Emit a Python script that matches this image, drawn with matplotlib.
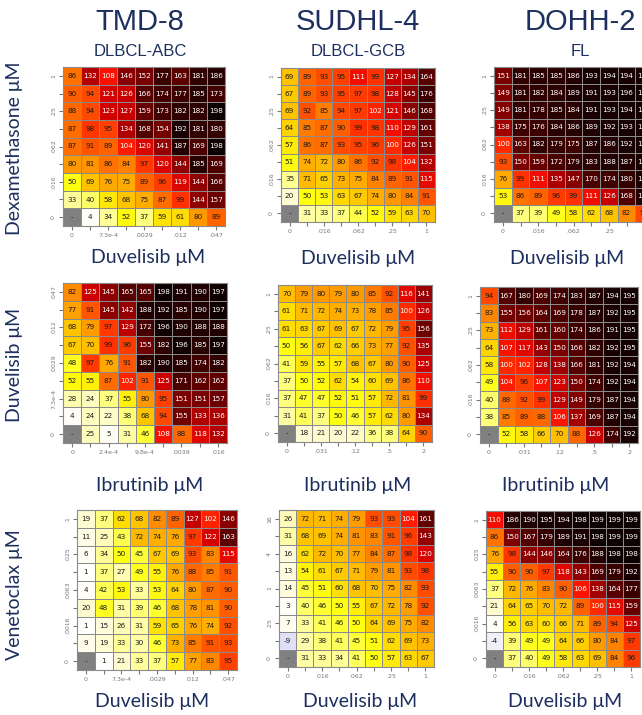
import numpy as np
import matplotlib.pyplot as plt
from matplotlib.colors import LinearSegmentedColormap

# ---- data (rows listed top to bottom, None = untreated corner) ----
cell_lines = ["TMD-8", "SUDHL-4", "DOHH-2"]
subtypes = ["DLBCL-ABC", "DLBCL-GCB", "FL"]
row_drugs = ["Dexamethasone μM", "Duvelisib μM", "Venetoclax μM"]
col_drugs = ["Duvelisib μM", "Ibrutinib μM", "Duvelisib μM"]  # x label per row

tmd8_dex_duv = [
    [86, 132, 108, 146, 152, 177, 163, 181, 186],
    [90, 94, 121, 126, 166, 174, 177, 185, 173],
    [88, 94, 123, 127, 159, 173, 182, 182, 198],
    [87, 98, 95, 134, 168, 154, 192, 181, 180],
    [87, 91, 89, 104, 120, 141, 187, 169, 198],
    [80, 81, 86, 84, 97, 120, 144, 185, 169],
    [50, 69, 76, 75, 89, 96, 119, 144, 166],
    [33, 40, 58, 68, 75, 87, 99, 144, 157],
    [None, 4, 34, 52, 37, 59, 61, 80, 89],
]
sudhl4_dex_duv = [
    [69, 89, 93, 95, 111, 99, 127, 134, 164],
    [67, 89, 93, 95, 97, 98, 128, 145, 176],
    [69, 92, 85, 94, 97, 102, 121, 146, 168],
    [64, 85, 87, 90, 99, 98, 110, 129, 161],
    [57, 86, 87, 93, 95, 96, 100, 126, 151],
    [51, 74, 72, 80, 86, 92, 98, 104, 132],
    [35, 71, 65, 73, 75, 84, 89, 91, 115],
    [20, 50, 53, 63, 67, 74, 80, 84, 91],
    [None, 31, 33, 37, 44, 52, 59, 63, 70],
]
dohh2_dex_duv = [
    [151, 181, 185, 185, 186, 193, 194, 194, 195],
    [149, 181, 182, 184, 189, 191, 193, 196, 196],
    [149, 181, 178, 185, 184, 191, 193, 194, 196],
    [138, 175, 176, 184, 186, 189, 192, 193, 195],
    [100, 163, 182, 179, 175, 187, 186, 192, 195],
    [93, 150, 159, 172, 179, 183, 188, 187, 194],
    [76, 99, 111, 135, 147, 170, 174, 180, 192],
    [53, 86, 89, 96, 99, 111, 126, 168, 188],
    [None, 37, 39, 49, 58, 62, 68, 82, 94],
]
tmd8_duv_ibr = [
    [82, 125, 145, 165, 165, 198, 191, 190, 197],
    [77, 91, 145, 142, 188, 192, 185, 190, 197],
    [68, 79, 97, 129, 172, 196, 190, 188, 188],
    [67, 70, 99, 96, 155, 182, 196, 185, 197],
    [48, 97, 76, 91, 182, 190, 185, 174, 182],
    [52, 55, 87, 102, 91, 125, 171, 162, 162],
    [28, 24, 37, 55, 80, 95, 151, 151, 157],
    [4, 24, 22, 38, 68, 94, 155, 133, 136],
    [None, 25, 5, 31, 46, 108, 88, 118, 132],
]
sudhl4_duv_ibr = [
    [70, 79, 80, 79, 80, 85, 92, 116, 141],
    [61, 71, 72, 74, 73, 78, 85, 100, 126],
    [61, 63, 67, 69, 67, 72, 79, 95, 156],
    [50, 56, 67, 62, 66, 73, 77, 92, 135],
    [41, 59, 55, 57, 68, 67, 80, 90, 125],
    [37, 50, 52, 62, 54, 60, 69, 86, 110],
    [37, 47, 47, 52, 51, 57, 72, 81, 99],
    [31, 41, 37, 50, 46, 57, 62, 80, 134],
    [None, 18, 21, 20, 22, 36, 38, 64, 90],
]
dohh2_duv_ibr = [
    [94, 167, 180, 169, 174, 183, 187, 194, 195],
    [83, 155, 156, 164, 169, 178, 187, 192, 195],
    [73, 112, 129, 161, 160, 174, 186, 191, 195],
    [64, 107, 117, 143, 150, 166, 182, 192, 195],
    [58, 100, 102, 128, 138, 166, 181, 192, 194],
    [49, 104, 96, 107, 123, 150, 174, 192, 194],
    [40, 88, 92, 99, 129, 149, 179, 187, 194],
    [38, 85, 89, 88, 106, 137, 169, 187, 194],
    [None, 52, 58, 66, 70, 88, 126, 174, 192],
]
tmd8_ven_duv = [
    [19, 37, 62, 68, 82, 89, 127, 102, 146],
    [11, 25, 43, 72, 74, 76, 97, 122, 163],
    [6, 34, 50, 45, 67, 69, 93, 83, 115],
    [1, 37, 27, 49, 55, 76, 88, 85, 91],
    [4, 42, 53, 33, 53, 64, 80, 87, 90],
    [20, 48, 31, 39, 46, 68, 78, 81, 90],
    [1, 15, 26, 31, 59, 65, 76, 74, 92],
    [9, 19, 33, 30, 46, 73, 85, 91, 93],
    [None, 1, 21, 33, 37, 57, 77, 83, 95],
]
sudhl4_ven_duv = [
    [26, 72, 71, 74, 79, 93, 93, 104, 161],
    [31, 68, 69, 74, 81, 83, 91, 96, 143],
    [16, 62, 72, 70, 77, 84, 87, 98, 120],
    [13, 54, 61, 67, 71, 79, 81, 93, 98],
    [14, 45, 51, 60, 68, 70, 75, 82, 93],
    [3, 40, 46, 50, 55, 67, 72, 78, 92],
    [7, 33, 41, 46, 50, 64, 69, 75, 82],
    [-9, 29, 38, 41, 45, 51, 62, 69, 73],
    [None, 31, 33, 34, 41, 50, 57, 63, 67],
]
dohh2_ven_duv = [
    [110, 186, 190, 195, 194, 198, 199, 199, 199],
    [86, 150, 167, 179, 189, 191, 198, 199, 199],
    [76, 98, 144, 146, 164, 176, 188, 198, 198],
    [55, 90, 90, 97, 118, 143, 169, 179, 192],
    [37, 72, 76, 83, 90, 106, 138, 164, 177],
    [21, 64, 65, 70, 72, 89, 100, 115, 159],
    [4, 56, 63, 60, 66, 71, 89, 94, 125],
    [-4, 39, 49, 49, 64, 66, 80, 84, 97],
    [None, 37, 40, 49, 58, 63, 69, 84, 96],
]

# tick labels, left-to-right (x) and bottom-to-top (y); '' = unlabeled tick
duv_tmd8_ticks = ["0", "", "7.3e-4", "", ".0029", "", ".012", "", ".047"]
duv_ticks = ["0", "", ".016", "", ".062", "", ".25", "", "1"]
ibr_tmd8_ticks = ["0", "", "2.4e-4", "", "9.8e-4", "", ".0039", "", ".016"]
ibr_ticks = ["0", "", ".031", "", ".12", "", ".5", "", "2"]
dex_ticks = ["0", "", ".016", "", ".062", "", ".25", "", "1"]
ven_ticks = ["0", "", ".0016", "", ".0063", "", ".025", "", ".1"]
ven_sudhl4_ticks = ["0", "", ".25", "", "1", "", "4", "", "16"]

panels = [
    [(tmd8_dex_duv, duv_tmd8_ticks, dex_ticks),
     (sudhl4_dex_duv, duv_ticks, dex_ticks),
     (dohh2_dex_duv, duv_ticks, dex_ticks)],
    [(tmd8_duv_ibr, ibr_tmd8_ticks, duv_tmd8_ticks),
     (sudhl4_duv_ibr, ibr_ticks, duv_ticks),
     (dohh2_duv_ibr, ibr_ticks, duv_ticks)],
    [(tmd8_ven_duv, duv_tmd8_ticks, ven_ticks),
     (sudhl4_ven_duv, duv_ticks, ven_sudhl4_ticks),
     (dohh2_ven_duv, duv_ticks, ven_ticks)],
]

# ---- layout (pixels: left, top, right, bottom) ----
W, H = 642, 715
boxes = [
    [(63, 67, 225, 226), (281, 68, 435, 222), (494, 67, 653, 222)],
    [(63, 283, 227, 443), (278, 285, 432, 442), (480, 287, 638, 443)],
    [(77, 510, 237, 670), (279, 510, 434, 667), (486, 511, 640, 667)],
]
xlabel_pos = [
    [(148, 257), (358, 259), (567, 259)],
    [(150, 486), (358, 486), (556, 486)],
    [(152, 701), (360, 701), (565, 701)],
]
ylabel_pos = [(15, 148), (15, 365), (15, 595)]
title_x = [140, 358, 580]

navy = "#1c2f5e"
cmap = LinearSegmentedColormap.from_list("heat", [
    (0.0, "#dcdcf5"), (10 / 210, "#ffffff"), (30 / 210, "#fffbd0"),
    (45 / 210, "#ffff90"), (60 / 210, "#ffff10"), (75 / 210, "#ffd000"),
    (90 / 210, "#ff9800"), (102 / 210, "#ff5000"), (115 / 210, "#ff1400"),
    (135 / 210, "#cc0000"), (155 / 210, "#8c0000"), (175 / 210, "#580000"),
    (195 / 210, "#280000"), (1.0, "#0a0000"),
])
cmap.set_bad("#808080")

fig = plt.figure(figsize=(W / 100, H / 100), dpi=100)
fig.patch.set_facecolor("white")


def fx(x):
    return x / W


def fy(y):
    return 1 - y / H


for c in range(3):
    fig.text(fx(title_x[c]), fy(22), cell_lines[c], ha="center", va="center",
             fontsize=21, color=navy, family="Liberation Sans")
    fig.text(fx(title_x[c]), fy(51), subtypes[c], ha="center", va="center",
             fontsize=12, color=navy, family="Liberation Sans")

for r in range(3):
    fig.text(fx(ylabel_pos[r][0]), fy(ylabel_pos[r][1]), row_drugs[r],
             rotation=90, ha="center", va="center", fontsize=14, color=navy,
             family="Lato")
    for c in range(3):
        data, xt, yt = panels[r][c]
        vals = np.array([[np.nan if v is None else v for v in row] for row in data], float)
        l, t, rr, b = boxes[r][c]
        ax = fig.add_axes([fx(l), fy(b), (rr - l) / W, (b - t) / H])
        ax.pcolormesh(np.ma.masked_invalid(vals), cmap=cmap, vmin=-10, vmax=200,
                      edgecolors="#8a8a8a", linewidth=0.6)
        ax.set_xlim(0, 9)
        ax.set_ylim(9, 0)
        for i in range(9):
            for j in range(9):
                v = data[i][j]
                txt = "-" if v is None else str(v)
                col = "white" if (v is not None and v >= 100) else "#1a1a1a"
                ax.text(j + 0.5, i + 0.5, txt, ha="center", va="center",
                        fontsize=5.2, color=col)
        ax.set_xticks(np.arange(9) + 0.5)
        ax.set_xticklabels(xt)
        ax.set_yticks(np.arange(9)[::-1] + 0.5)
        ax.set_yticklabels(yt, rotation=90, va="center")
        ax.tick_params(length=3, width=0.8, color="#777777", labelsize=4.5,
                       labelcolor="#777777", pad=2)
        for s in ax.spines.values():
            s.set_color("#8a8a8a")
            s.set_linewidth(0.8)
        fig.text(fx(xlabel_pos[r][c][0]), fy(xlabel_pos[r][c][1]), col_drugs[r],
                 ha="center", va="center", fontsize=14, color=navy, family="Lato")

fig.savefig("out.png", dpi=100)
plt.close(fig)
